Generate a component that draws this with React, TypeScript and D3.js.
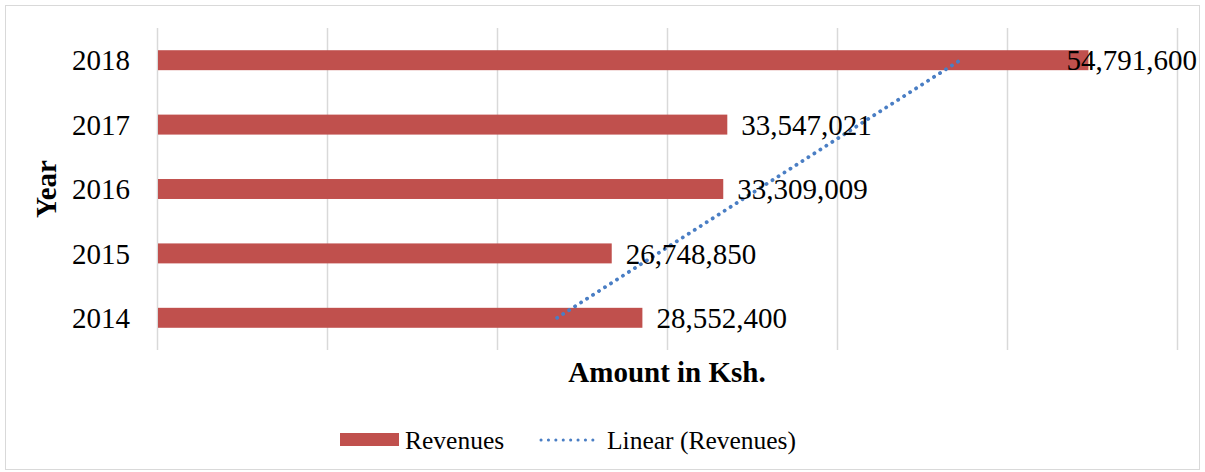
import { useEffect, useRef } from 'react';
import * as d3 from 'd3';

const years = ['2014', '2015', '2016', '2017', '2018'];
const revenues = [28552400, 26748850, 33309009, 33547021, 54791600];
const xTicks = [0, 10000000, 20000000, 30000000, 40000000, 50000000, 60000000];

export default function App() {
  const svgRef = useRef<SVGSVGElement>(null);

  useEffect(() => {
    const width = 1205;
    const height = 472;
    const font = '"Liberation Serif", "Times New Roman", serif';
    const left = 157, right = 1177, top = 28, bottom = 350;
    const trendColor = '#4a7ec4';

    const svg = d3.select(svgRef.current)
      .attr('width', width)
      .attr('height', height);
    svg.selectAll('*').remove();

    // frame
    svg.append('rect')
      .attr('x', 5.5).attr('y', 5.5)
      .attr('width', width - 11).attr('height', height - 8)
      .attr('fill', 'white').attr('stroke', '#d9d9d9');

    const x = d3.scaleLinear().domain([0, 60000000]).range([left, right]);
    const y = d3.scaleBand<string>()
      .domain([...years].reverse())
      .range([top, bottom])
      .paddingInner(0.69).paddingOuter(0.345);

    // gridlines
    svg.append('g').selectAll('line')
      .data(xTicks)
      .enter().append('line')
      .attr('x1', d => x(d) + 0.5).attr('x2', d => x(d) + 0.5)
      .attr('y1', top).attr('y2', bottom)
      .attr('stroke', '#d9d9d9').attr('stroke-width', 1.5);

    // bars
    svg.append('g').selectAll('rect')
      .data(years)
      .enter().append('rect')
      .attr('x', x(0) + 1)
      .attr('y', d => y(d)!)
      .attr('width', (d, i) => x(revenues[i]) - x(0) - 1)
      .attr('height', y.bandwidth())
      .attr('fill', '#c0504d');

    // linear trendline (least squares over index 1..n)
    const n = revenues.length;
    const xs = revenues.map((_, i) => i + 1);
    const mx = d3.mean(xs)!;
    const my = d3.mean(revenues)!;
    const slope = d3.sum(xs, (xi, i) => (xi - mx) * (revenues[i] - my)) / d3.sum(xs, xi => (xi - mx) ** 2);
    const icpt = my - slope * mx;
    const cy = (d: string) => y(d)! + y.bandwidth() / 2;
    const trend: [number, number][] = [
      [x(icpt + slope * 1), cy(years[0])],
      [x(icpt + slope * n), cy(years[n - 1])],
    ];
    svg.append('path')
      .attr('d', d3.line()(trend))
      .attr('fill', 'none')
      .attr('stroke', trendColor)
      .attr('stroke-width', 3.8)
      .attr('stroke-linecap', 'round')
      .attr('stroke-dasharray', '0.1 7');

    // value labels (pushed back inside when they would run past the frame)
    const fmt = d3.format(',');
    svg.append('g').selectAll('text')
      .data(years)
      .enter().append('text')
      .attr('x', (d, i) => x(revenues[i]) + 14)
      .attr('y', d => cy(d))
      .attr('dy', '0.35em')
      .attr('font-family', font)
      .attr('font-size', 29)
      .attr('fill', '#000')
      .text((d, i) => fmt(revenues[i]))
      .each(function () {
        const t = this as SVGTextElement;
        const w = t.getComputedTextLength();
        const x0 = +t.getAttribute('x')!;
        if (x0 + w > 1197) t.setAttribute('x', String(1197 - w));
      });

    // year labels
    svg.append('g').selectAll('text')
      .data(years)
      .enter().append('text')
      .attr('x', 130)
      .attr('y', d => cy(d))
      .attr('dy', '0.35em')
      .attr('text-anchor', 'end')
      .attr('font-family', font)
      .attr('font-size', 29)
      .text(d => d);

    // axis titles
    svg.append('text')
      .attr('transform', `translate(56,${(top + bottom) / 2}) rotate(-90)`)
      .attr('text-anchor', 'middle')
      .attr('font-family', font)
      .attr('font-size', 29)
      .attr('font-weight', 'bold')
      .text('Year');

    svg.append('text')
      .attr('x', (left + right) / 2)
      .attr('y', 382)
      .attr('text-anchor', 'middle')
      .attr('font-family', font)
      .attr('font-size', 29)
      .attr('font-weight', 'bold')
      .text('Amount in Ksh.');

    // legend
    const lg = svg.append('g');
    lg.append('rect')
      .attr('x', 340).attr('y', 433).attr('width', 59).attr('height', 13)
      .attr('fill', '#c0504d');
    lg.append('text')
      .attr('x', 405).attr('y', 440).attr('dy', '0.35em')
      .attr('font-family', font).attr('font-size', 25.5)
      .text('Revenues');
    lg.append('line')
      .attr('x1', 541).attr('x2', 600).attr('y1', 440).attr('y2', 440)
      .attr('stroke', trendColor)
      .attr('stroke-width', 3)
      .attr('stroke-linecap', 'round')
      .attr('stroke-dasharray', '0.1 7.3');
    lg.append('text')
      .attr('x', 607).attr('y', 440).attr('dy', '0.35em')
      .attr('font-family', font).attr('font-size', 25.5)
      .text('Linear (Revenues)');
  }, []);

  return <svg ref={svgRef} style={{ position: 'absolute', left: 0, top: 0 }}></svg>;
}
